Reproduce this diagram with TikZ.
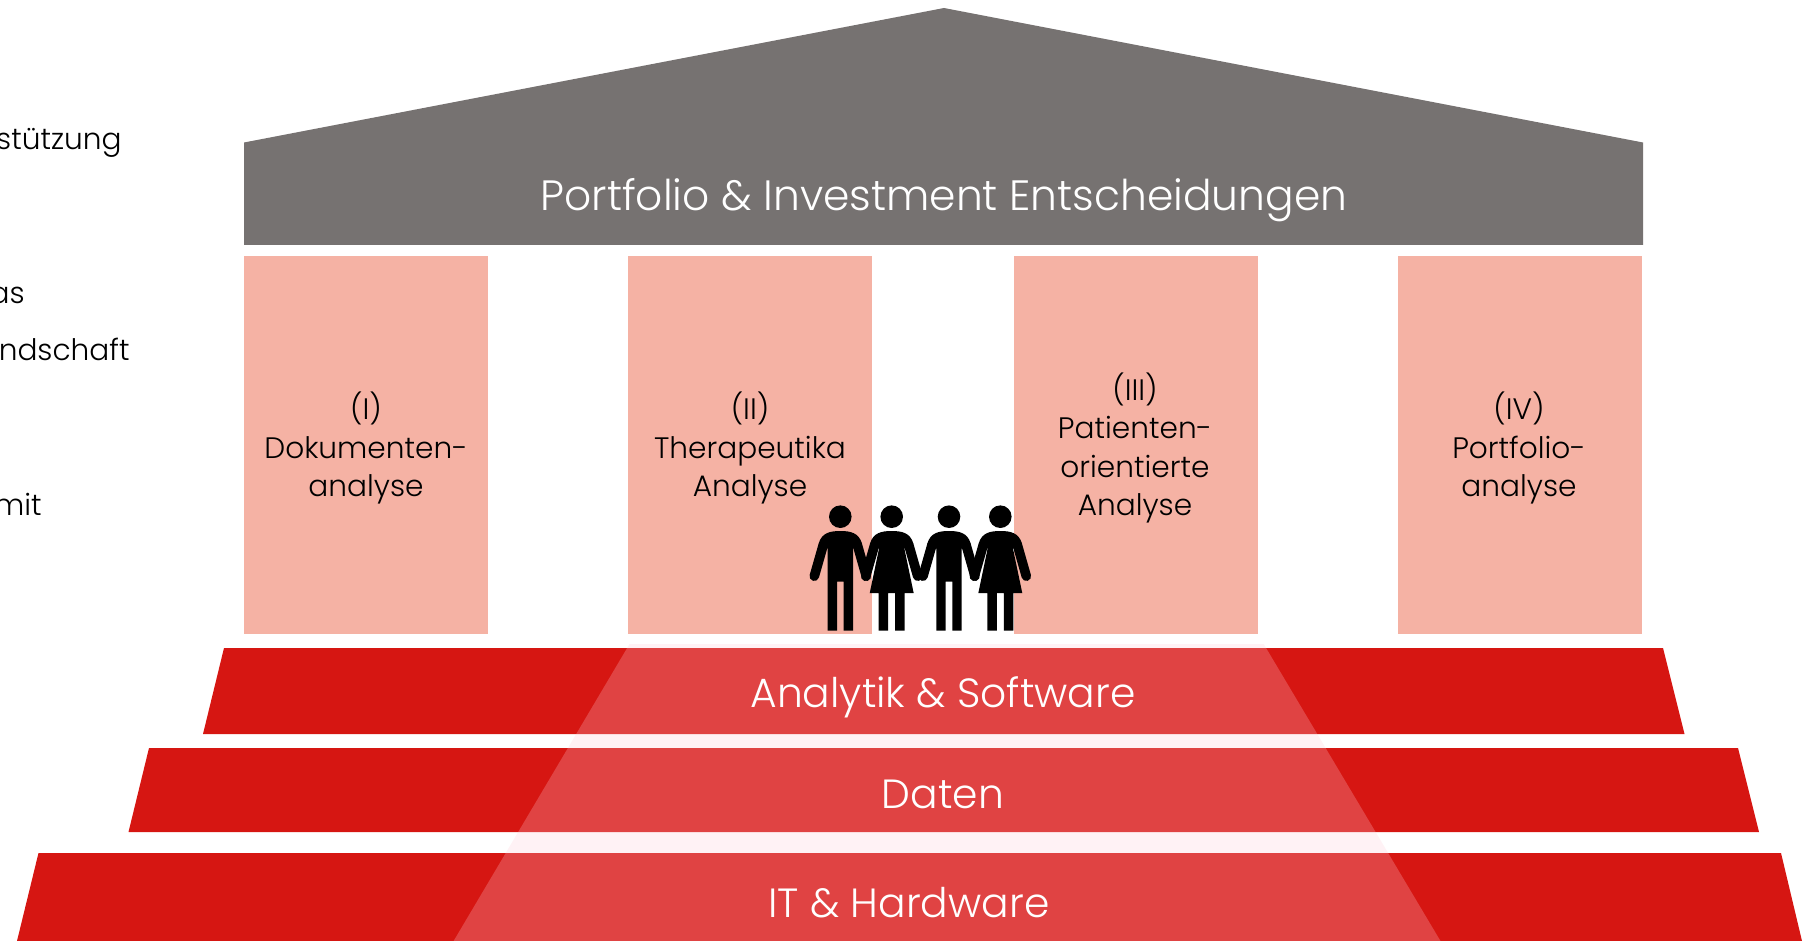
\documentclass[tikz,border=0pt]{standalone}
\usepackage{fontspec}
\setmainfont{Poppins}[UprightFont=* Light]
\usepackage{xcolor}
\usepackage{tikz}
\usetikzlibrary{positioning}
\usetikzlibrary{calc}
\definecolor{dach}{HTML}{767271}
\definecolor{saeule}{HTML}{F5B2A4}
\definecolor{stufe}{HTML}{D61612}
\definecolor{schleier}{RGB}{254,204,214}
\tikzset{
	saeulentext/.style={align=center,font=\fontsize{14.8}{19.25}\selectfont},
	stufentext/.style={white,font=\fontsize{20.4}{24}\selectfont},
	randtext/.style={anchor=base east,inner sep=0pt,font=\fontsize{14.8}{17}\selectfont},
	arm/.style={line width=4.8pt,line cap=round},
	mann/.pic={
		\fill (0,0) circle (11.3);
		\draw[arm] (-17,28) -- (-26,59.5);
		\draw[arm] (17,28) -- (26,59.5);
		\fill (0,14.3) .. controls (10,14.3) and (18.5,16) .. (21.6,26.7) -- (12.7,32)
			-- (12.7,114) -- (3.3,114) -- (3.3,65) -- (-3.3,65) -- (-3.3,114) -- (-12.7,114) -- (-12.7,32)
			-- (-21.6,26.7) .. controls (-18.5,16) and (-10,14.3) .. (0,14.3) -- cycle;
	},
	frau/.pic={
		\fill (0,0) circle (11.3);
		\draw[arm] (-17,28) -- (-26,59.5);
		\draw[arm] (17,28) -- (26,59.5);
		\fill (0,14.3) .. controls (10,14.3) and (18.5,16) .. (21.6,26.7) -- (12.7,32)
			-- (22,76.5) -- (13,76.5) -- (13,114) -- (3.5,114) -- (3.5,76.5) -- (-3.5,76.5) -- (-3.5,114) -- (-13,114) -- (-13,76.5) -- (-22,76.5) -- (-12.7,32)
			-- (-21.6,26.7) .. controls (-18.5,16) and (-10,14.3) .. (0,14.3) -- cycle;
	}
}

\begin{document}
\begin{tikzpicture}[x=0.5pt,y=-0.5pt]
	\def\largeur{1816}
	\def\hauteur{941}
\useasboundingbox (0,0) rectangle (\largeur,\hauteur);
\clip (0,0) rectangle (\largeur,\hauteur);

%Texte am linken Rand
\node[randtext] (rand1) at (122,150) {stützung};
\node[randtext] (rand2) at (25,304) {as};
\node[randtext] (rand3) at (130,360) {ndschaft};
\node[randtext] (rand4) at (42,515) {mit};

%Dach
\fill[dach] (244,142.5) -- (944,8) -- (1643,142.5) -- (1643,245) -- (244,245) -- cycle;
\node[stufentext,font=\fontsize{21.2}{24}\selectfont] (dachtext) at (944,200) {Portfolio \& Investment Entscheidungen};

%Saeulen
\foreach \xs in {244,628,1014,1398} {
	\fill[saeule] (\xs,256) rectangle ++(244,378);
}
\node[saeulentext] (s1) at (366,448) {(I)\\Dokumenten-\\analyse};
\node[saeulentext] (s2) at (750,448) {(II)\\Therapeutika\\Analyse};
\node[saeulentext] (s3) at (1135,448) {(III)\\Patienten-\\orientierte\\Analyse};
\node[saeulentext] (s4) at (1519,448) {(IV)\\Portfolio-\\analyse};

%Stufen
\fill[stufe] (224,648) -- (1663,648) -- (1684.5,734) -- (203,734) -- cycle;
\fill[stufe] (149,748) -- (1738,748) -- (1759,832) -- (128.5,832) -- cycle;
\fill[stufe] (38.5,853) -- (1781,853) -- (1802,941) -- (17,941) -- cycle;

%Schleier
\fill[schleier,fill opacity=0.25] (629.5,644) -- (1263.7,644) -- (1440.5,941) -- (453.6,941) -- cycle;

\node[stufentext] (t1) at (943,697) {Analytik \& Software};
\node[stufentext] (t2) at (943,794) {Daten};
\node[stufentext] (t3) at (909,903) {IT \& Hardware};

%Figuren
\foreach \xf/\art in {840.3/mann,891.7/frau,949/mann,1000.3/frau} {
	\pic at (\xf,516.7) {\art};
}

\end{tikzpicture}
\end{document}
